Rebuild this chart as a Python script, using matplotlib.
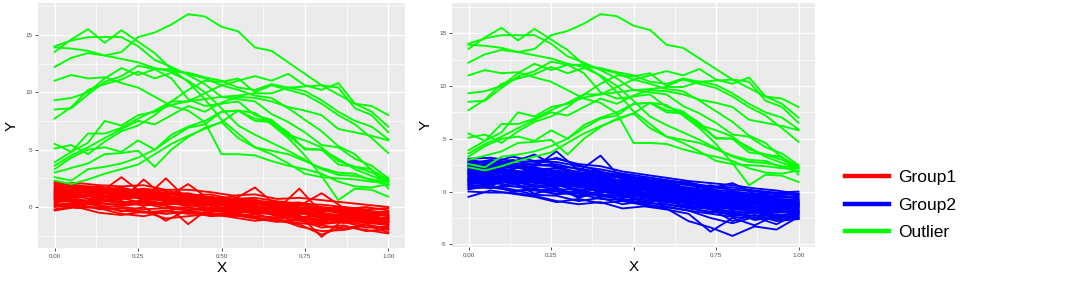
import numpy as np
import matplotlib
matplotlib.use("Agg")
import matplotlib.pyplot as plt
from matplotlib.lines import Line2D

# ---------------- data ----------------
x_outlier = [0.00, 0.05, 0.10, 0.15, 0.20, 0.25, 0.30, 0.35, 0.40, 0.45, 0.50,
             0.55, 0.60, 0.65, 0.70, 0.75, 0.80, 0.85, 0.90, 0.95, 1.00]
outlier_y = [
    [12.2, 13.0, 13.4, 13.2, 13.5, 14.8, 15.2, 15.9, 16.8, 16.6, 15.7, 15.3, 13.9, 13.6, 12.6, 11.6, 10.6, 9.8, 9.0, 8.3, 7.0],
    [13.5, 14.6, 15.5, 14.3, 15.4, 14.4, 13.4, 12.0, 10.9, 9.4, 7.6, 6.4, 5.2, 4.6, 3.8, 2.9, 2.6, 2.5, 2.4, 2.2, 2.2],
    [14.0, 14.5, 14.8, 14.8, 14.8, 14.0, 12.8, 12.2, 11.5, 10.7, 9.6, 9.4, 9.2, 8.1, 7.4, 6.5, 5.4, 5.2, 4.2, 3.6, 2.5],
    [13.9, 13.8, 13.6, 13.2, 12.9, 12.6, 12.1, 11.8, 11.7, 11.3, 11.0, 10.4, 10.2, 10.7, 10.4, 10.1, 9.3, 8.3, 7.5, 7.0, 5.9],
    [11.0, 11.5, 11.2, 11.3, 10.8, 10.4, 9.6, 8.8, 8.4, 7.4, 4.6, 4.6, 4.5, 4.0, 3.6, 3.3, 2.9, 2.2, 1.8, 1.7, 2.0],
    [9.3, 9.5, 10.0, 11.2, 12.1, 11.5, 12.0, 12.0, 11.6, 11.2, 10.6, 10.2, 9.7, 9.5, 8.6, 7.6, 6.6, 5.3, 4.6, 3.2, 2.4],
    [8.5, 8.6, 9.8, 10.9, 11.4, 12.3, 12.0, 11.2, 9.4, 8.8, 9.0, 9.2, 8.0, 7.6, 6.3, 5.8, 5.2, 4.0, 3.5, 3.3, 1.6],
    [7.7, 8.7, 10.2, 10.7, 11.1, 11.8, 11.2, 11.7, 11.0, 10.0, 8.6, 7.1, 6.3, 5.6, 4.9, 4.1, 3.3, 2.8, 2.7, 2.4, 2.2],
    [5.5, 4.8, 5.6, 7.5, 7.1, 8.0, 8.3, 8.9, 9.2, 9.9, 10.6, 11.0, 11.4, 11.0, 11.6, 10.6, 10.2, 10.8, 9.0, 8.8, 8.0],
    [5.1, 5.4, 4.6, 5.7, 6.6, 7.1, 8.0, 9.2, 9.2, 9.4, 9.6, 9.7, 9.9, 9.9, 10.4, 10.5, 10.6, 10.4, 8.6, 8.0, 6.5],
    [3.9, 4.8, 6.4, 6.4, 6.9, 7.7, 8.4, 9.2, 10.2, 11.0, 10.9, 11.2, 10.0, 10.6, 10.2, 9.8, 9.0, 8.0, 7.2, 6.0, 4.7],
    [3.6, 4.5, 5.2, 6.0, 6.8, 7.5, 7.2, 8.0, 8.8, 8.3, 9.1, 9.6, 9.5, 9.2, 8.7, 8.4, 8.0, 6.8, 6.5, 6.2, 5.8],
    [3.3, 4.3, 5.0, 5.2, 4.8, 5.8, 5.0, 6.3, 7.0, 7.5, 8.3, 8.4, 7.5, 7.4, 6.2, 5.1, 5.0, 3.7, 3.5, 3.0, 2.3],
    [3.0, 3.4, 3.8, 4.6, 4.7, 4.9, 3.5, 5.0, 6.1, 6.9, 7.4, 6.0, 5.2, 4.9, 4.6, 4.0, 3.4, 3.0, 2.9, 2.3, 1.9],
    [2.6, 2.3, 3.3, 3.5, 3.8, 4.3, 5.0, 6.0, 6.9, 7.2, 8.3, 8.4, 7.7, 7.5, 6.5, 5.0, 5.0, 4.2, 3.3, 2.7, 2.2],
    [2.3, 2.0, 2.4, 2.9, 3.3, 3.7, 4.6, 5.5, 6.2, 6.8, 7.4, 8.4, 8.2, 7.2, 6.0, 4.5, 2.7, 0.6, 1.6, 1.5, 0.9],
]

x_group = [0.0, 0.0667, 0.1333, 0.2, 0.2667, 0.3333, 0.4, 0.4667, 0.5333,
           0.6, 0.6667, 0.7333, 0.8, 0.8667, 0.9333, 1.0]
group1_y = [
    [1.2, 1.5, 1.0, 0.9, 0.8, 0.6, 0.7, 0.2, 0.1, 0.0, -0.3, -0.2, -0.9, -0.7, -1.1, -1.3],
    [0.5, 0.7, 0.3, 0.2, 0.4, 0.1, -0.2, -0.1, -0.4, -0.3, -0.8, -1.0, -1.4, -1.2, -1.6, -1.8],
    [1.8, 1.6, 1.4, 1.7, 1.2, 1.3, 0.9, 0.8, 0.5, 0.6, 0.2, 0.0, -0.3, -0.5, -0.4, -0.8],
    [0.0, 0.2, 0.4, 0.1, 0.3, -0.1, 0.0, -0.4, -0.2, -0.6, -0.5, -0.9, -1.1, -0.8, -1.2, -1.5],
    [2.1, 1.8, 1.5, 1.2, 1.3, 1.0, 0.7, 0.9, 0.4, 0.3, 0.1, -0.2, -0.4, -0.3, -0.7, -0.6],
    [1.0, 0.8, 1.2, 2.6, 1.1, 0.9, 0.6, 0.4, 0.3, -0.1, 0.0, -0.4, -0.6, -0.9, -0.8, -1.1],
    [0.7, 1.1, 0.9, 0.6, 2.4, 0.8, 0.5, 0.2, 0.1, -0.2, -0.1, -0.6, -0.5, -1.0, -1.3, -0.9],
    [1.4, 1.2, 0.8, 1.0, 0.7, 2.5, 0.6, 0.5, 0.2, 0.1, -0.3, -0.1, -0.7, -0.6, -1.0, -1.2],
    [0.3, -0.1, 0.0, -0.3, -0.5, -0.3, -0.6, -0.5, -0.8, -0.6, -1.1, -1.4, -1.6, -1.9, -1.5, -2.0],
    [1.6, 1.3, 1.5, 1.1, 1.0, 0.8, 2.0, 0.6, 0.5, 0.4, 0.2, 0.3, -0.2, 0.0, -0.5, -0.7],
    [0.9, 0.6, 0.5, 0.8, 0.3, 0.2, 0.4, -0.1, 0.0, -0.3, -0.4, -0.7, -2.6, -1.1, -1.4, -1.2],
    [1.1, 1.4, 1.3, 0.9, 1.2, 0.7, 0.8, 0.3, 0.6, 1.7, 0.1, -0.3, -0.2, -0.6, -0.9, -1.0],
    [0.4, 0.6, 0.2, -0.4, 0.0, -1.2, -0.2, -0.3, -0.5, -0.4, -0.7, -0.8, -1.2, -1.0, -1.3, -1.6],
    [1.3, 1.0, 1.1, 0.7, 0.9, 0.5, 0.3, 0.4, 0.0, 0.1, -0.2, 1.6, -0.5, -0.8, -0.6, -1.1],
    [0.8, 0.5, 0.7, 0.4, 0.5, 0.2, -1.5, 0.0, -0.2, -0.5, -0.6, -0.9, -0.8, -1.3, -1.1, -1.4],
    [1.9, 1.7, 1.6, 1.3, 1.5, 1.1, 1.2, 0.8, 0.7, 0.5, 0.4, 0.1, 1.2, -0.1, -0.3, -0.5],
    [0.6, 0.9, 0.6, 0.5, 0.1, 0.4, 0.1, 0.2, -0.3, -0.2, -0.6, -0.5, -1.0, -1.4, -1.0, -1.3],
    [1.5, 1.1, 0.9, 1.2, 0.6, 0.7, 0.4, 0.5, 0.3, -0.1, -0.2, -0.5, -0.9, -0.7, -1.2, -0.9],
    [-0.2, 0.1, -0.1, -0.6, -0.8, -0.4, -0.5, -0.7, -0.6, -0.9, -1.2, -1.5, -2.4, -1.7, -2.0, -2.3],
    [1.0, 1.3, 1.1, 1.4, 0.9, 1.0, 0.5, 0.7, 0.2, 0.3, -0.1, -0.3, -0.3, -0.5, -0.8, -0.7],
    [2.2, 1.9, 1.7, 1.6, 1.4, 1.2, 1.0, 1.1, 0.7, 0.8, 0.5, 0.3, 0.2, 0.0, -0.2, -0.1],
    [0.2, 0.4, 0.1, 0.0, -0.2, -0.1, -0.3, -0.6, -0.5, -0.8, -0.9, -1.2, -1.5, -1.3, -1.8, -1.7],
    [1.2, 0.9, 1.3, 1.0, 1.1, 0.6, 0.9, 0.6, 0.4, 0.2, 0.3, -0.1, -0.1, -0.4, -0.6, -0.4],
    [0.7, 0.4, 0.6, 0.3, 0.6, 0.3, 0.2, -0.2, -0.1, -0.4, -0.3, -0.8, -1.3, -0.9, -1.4, -1.5],
    [1.7, 1.4, 1.2, 1.5, 1.1, 1.2, 0.8, 0.9, 0.6, 0.6, 0.3, 0.4, 0.0, -0.2, 0.0, -0.3],
    [0.1, 0.3, -0.2, -0.1, -0.4, -0.6, -0.4, -0.8, -0.7, -1.0, -1.3, -1.1, -1.8, -1.6, -2.1, -1.9],
    [0.9, 1.2, 0.7, 1.1, 0.8, 0.5, 0.5, 0.1, 0.2, -0.1, -0.4, -0.4, -0.7, -1.1, -0.9, -1.0],
    [1.4, 1.6, 1.8, 1.4, 1.6, 1.4, 1.1, 0.7, 0.9, 0.4, 0.0, 0.2, -0.4, -0.2, -0.5, -0.8],
    [-0.3, 0.0, -0.5, -0.7, -0.4, -1.0, -0.8, -0.6, -0.9, -1.2, -1.0, -1.7, -2.1, -2.0, -1.6, -2.2],
    [2.0, 2.1, 1.9, 1.8, 1.9, 1.5, 1.5, 1.3, 1.0, 1.1, 0.7, 0.8, 0.6, 0.4, 0.2, 0.0],
]
group2_y = [
    [3.1, 3.2, 2.9, 2.8, 2.8, 2.4, 2.1, 1.7, 1.4, 1.1, 0.8, 0.5, 0.4, 0.1, -0.1, 0.0],
    [2.9, 2.6, 2.8, 3.5, 2.4, 2.2, 1.8, 1.6, 1.2, 1.0, 0.7, 0.4, 0.2, 0.0, -0.2, -0.3],
    [2.7, 2.9, 2.5, 2.3, 3.8, 2.0, 1.9, 1.4, 1.1, 0.8, 0.6, 0.2, 0.0, -0.2, -0.1, -0.4],
    [2.5, 2.3, 2.6, 2.1, 2.2, 1.8, 1.5, 1.3, 0.9, 0.7, 0.3, 0.1, -0.2, -0.3, -0.5, -0.6],
    [2.4, 2.6, 2.2, 2.3, 1.9, 1.9, 3.4, 1.1, 0.8, 0.5, 0.4, -0.1, -0.1, -0.5, -0.6, -0.5],
    [2.3, 2.1, 2.3, 2.0, 2.0, 1.6, 1.5, 1.0, 0.9, 0.4, 0.1, 0.0, -0.4, -0.4, -0.7, -0.8],
    [2.1, 2.2, 1.9, 1.9, 1.6, 1.6, 1.1, 1.0, 0.5, 0.4, 0.0, -0.4, -0.5, -0.7, -0.8, -1.0],
    [2.0, 1.8, 2.0, 1.7, 1.7, 1.3, 1.2, 0.7, 0.6, 0.1, -0.1, -0.3, -0.7, -0.8, -1.0, -0.9],
    [1.9, 2.1, 1.7, 1.8, 1.4, 1.4, 0.9, 0.8, 0.3, 0.2, -0.3, -0.5, -0.6, -1.0, -1.0, -1.2],
    [1.8, 1.6, 1.8, 1.5, 1.5, 1.1, 1.0, 0.5, 0.4, -0.1, -0.2, -0.7, -0.9, -0.9, -1.2, -1.1],
    [1.7, 1.9, 1.5, 1.6, 1.2, 1.2, 0.7, 0.6, 0.1, 0.0, -0.5, -0.6, -0.8, -1.2, -1.1, -1.4],
    [1.6, 1.4, 1.6, 1.3, 1.3, 0.9, 0.8, 0.3, 0.2, -0.3, -0.4, -0.9, -1.1, -1.1, -1.4, -1.3],
    [1.5, 1.7, 1.3, 1.4, 1.0, 1.0, 0.5, 0.4, -0.1, -0.1, -0.7, -0.8, -1.0, -1.4, -1.3, -1.6],
    [1.4, 1.3, 1.5, 1.2, 1.2, 0.8, 0.7, 0.2, 0.1, -0.4, -0.5, -1.0, -1.2, -1.2, -1.6, -1.4],
    [1.3, 1.5, 1.1, 1.3, 0.9, 0.9, 0.4, 0.3, -0.2, -0.3, -0.8, -0.9, -1.3, -1.5, -1.5, -1.7],
    [1.2, 1.1, 1.4, 1.0, 1.0, 0.6, 0.5, 0.0, -0.1, -0.6, -0.6, -1.2, -1.3, -1.4, -1.7, -1.6],
    [1.1, 1.3, 1.0, 1.1, 0.7, 0.7, 0.2, 0.1, -0.4, -0.4, -1.0, -1.1, -1.5, -1.7, -1.6, -1.9],
    [1.0, 0.9, 1.2, 0.8, 0.8, 0.4, 0.3, -0.2, -0.3, -0.8, -0.8, -1.3, -1.4, -1.6, -1.9, -1.8],
    [0.9, 1.1, 0.8, 0.9, 0.5, 0.5, 0.0, -0.1, -0.6, -0.6, -1.2, -1.3, -1.7, -1.8, -1.8, -2.0],
    [0.8, 0.7, 1.0, 0.6, 0.6, 0.2, 0.1, -0.4, -0.5, -1.0, -1.0, -1.5, -1.6, -1.9, -2.0, -1.9],
    [0.7, 0.9, 0.5, 0.5, 0.2, 0.2, -0.3, -0.4, -0.8, -0.9, -1.4, -1.6, -1.9, -2.0, -2.2, -2.2],
    [0.5, 0.4, 0.5, 0.2, 0.1, -0.1, -0.4, -0.7, -1.1, -1.2, -1.6, -1.9, -2.1, -2.3, -2.3, -2.5],
    [0.3, 0.4, 0.1, 0.1, -0.2, -0.2, -0.7, -0.8, -1.2, -1.5, -1.8, -2.1, -2.4, -2.5, -2.6, -2.6],
    [0.0, -0.1, -0.1, -0.4, -0.9, -1.2, -1.0, -1.6, -1.4, -1.7, -2.1, -3.8, -2.5, -3.2, -2.2, -2.5],
    [-0.5, 0.1, -0.2, -0.5, -1.0, -0.7, -1.1, -0.9, -1.3, -1.6, -2.8, -3.4, -4.2, -3.3, -3.6, -2.4],
    [0.6, 0.5, 0.2, -0.3, -0.4, -0.9, -0.6, -1.2, -0.9, -1.4, -1.8, -2.5, -3.0, -2.4, -3.1, -2.0],
    [2.8, 2.4, 3.0, 2.5, 2.6, 2.1, 1.6, 1.5, 1.0, 0.9, 0.9, 0.3, 0.8, -0.2, -0.4, -0.2],
    [2.2, 2.7, 2.4, 2.6, 3.2, 2.5, 1.9, 1.2, 1.3, 0.6, 0.2, 0.6, 0.1, -0.6, -0.3, -0.7],
    [1.0, 1.5, 0.7, 1.2, 0.4, 1.3, -0.2, 0.6, -0.4, 0.2, -0.9, -0.5, -1.8, -1.0, -2.0, -1.2],
    [1.9, 1.5, 2.1, 1.3, 1.9, 0.9, 1.4, 0.5, 0.7, -0.2, 0.0, -0.8, -0.6, -1.5, -0.9, -1.8],
    [0.4, 0.8, 0.9, -0.2, 0.3, -0.5, 0.1, -0.6, -0.4, -1.0, -1.3, -1.7, -2.3, -2.0, -2.5, -2.3],
    [2.6, 3.0, 2.7, 2.5, 2.4, 1.8, 1.7, 1.3, 0.8, 0.6, 0.1, -0.2, -0.3, -0.6, -0.9, -0.8],
    [1.3, 1.0, 1.3, 0.9, 1.4, 0.5, 1.0, 0.1, 0.4, -0.6, -0.3, -1.0, -1.6, -0.9, -1.7, -1.5],
    [1.7, 2.0, 1.6, 2.2, 1.3, 1.7, 0.8, 1.0, 0.2, 0.5, -0.4, -0.1, -1.0, -0.7, -1.4, -1.0],
    [0.9, 0.6, 1.1, 0.4, 0.7, 0.0, 0.6, -0.3, -0.1, -0.7, -1.1, -1.4, -2.0, -2.6, -1.9, -2.1],
    [2.0, 2.3, 1.8, 2.0, 1.8, 1.5, 1.3, 0.9, 0.7, 0.3, -0.1, -0.4, -0.3, -0.9, -1.1, -1.3],
    [1.1, 0.8, 0.9, 0.6, 0.4, -0.6, 0.0, -0.3, -0.4, -0.8, -1.1, -1.6, -2.2, -1.8, -2.4, -1.9],
    [2.4, 2.0, 2.5, 1.8, 2.3, 1.6, 1.4, 1.0, 0.4, 0.8, 0.3, 0.1, -0.5, -0.4, -0.8, -1.2],
    [1.6, 1.2, 1.8, 1.1, 1.1, 1.4, 0.3, 0.7, -0.3, 0.0, -0.6, -1.1, -0.8, -1.6, -1.2, -1.5],
    [0.2, 0.6, 0.0, 0.3, -0.3, 0.1, -0.5, -0.4, -1.0, -0.8, -1.5, -1.6, -2.8, -2.2, -2.8, -2.6],
    [3.0, 2.7, 3.3, 2.9, 3.1, 2.6, 2.4, 1.9, 1.6, 1.3, 1.0, 0.8, 0.6, 0.3, 0.1, -0.2],
    [0.6, 0.3, 0.8, 0.2, 0.0, -0.4, -0.2, -0.9, -0.6, -1.2, -1.5, -2.0, -1.9, -2.7, -2.4, -2.3],
    [1.8, 2.2, 2.0, 1.6, 1.7, 1.2, 1.3, 0.8, 0.5, 0.3, 0.0, -0.2, -0.6, -1.0, -1.2, -1.1],
    [1.2, 0.9, 1.2, 1.0, 0.6, 0.7, 0.2, 0.0, -0.2, -0.5, -0.9, -1.2, -1.4, -1.9, -1.8, -2.1],
]

x_ticks = [0.00, 0.25, 0.50, 0.75, 1.00]
x_ticklabels_left = ["0.00", "0.25", "0.50", "0.75", "1.00"]
x_ticklabels_right = ["0.00", "0.25", "", "0.75", "1.00"]
legend_labels = ["Group1", "Group2", "Outlier"]
colors = {"Group1": "#FF0000", "Group2": "#0000FF", "Outlier": "#00FF00"}

# ---------------- figure ----------------
plt.rcParams["font.family"] = ["Liberation Sans", "DejaVu Sans"]
fig = plt.figure(figsize=(10.66, 2.85), dpi=100)

ax1 = fig.add_axes([38 / 1066, 1 - 248 / 285, 367 / 1066, 245 / 285])
ax2 = fig.add_axes([452 / 1066, 1 - 247 / 285, 363 / 1066, 244 / 285])


def style(ax, ylo, yhi, yticks, xlabels):
    ax.set_facecolor("#EBEBEB")
    for s in ax.spines.values():
        s.set_visible(False)
    ax.set_xlim(-0.05, 1.05)
    ax.set_ylim(ylo, yhi)
    ax.set_xticks(x_ticks)
    ax.set_xticklabels(xlabels)
    ax.set_yticks(yticks)
    ax.set_yticklabels([str(t) for t in yticks])
    ax.set_xticks([0.125, 0.375, 0.625, 0.875], minor=True)
    ym = [t + 2.5 for t in yticks[:-1]] + [yticks[0] - 2.5, yticks[-1] + 2.5]
    ax.set_yticks([v for v in ym if ylo < v < yhi], minor=True)
    ax.grid(which="major", color="white", linewidth=1.0)
    ax.grid(which="minor", color="white", linewidth=0.5)
    ax.set_axisbelow(True)
    ax.tick_params(which="major", length=2, width=0.6, color="#333333",
                   labelsize=4.5, labelcolor="#4D4D4D", pad=2)
    ax.tick_params(which="minor", length=0)
    ax.set_xlabel("X", fontsize=11, labelpad=2)
    ax.set_ylabel("Y", fontsize=11, labelpad=5)


def yrange(groups):
    allv = [v for g in groups for line in g for v in line]
    lo, hi = min(allv), max(allv)
    pad = 0.05 * (hi - lo)
    return lo - pad, hi + pad


lo1, hi1 = yrange([group1_y, outlier_y])
lo2, hi2 = yrange([group2_y, outlier_y])

LW = 1.35
for line in group1_y:
    ax1.plot(x_group, line, color=colors["Group1"], lw=LW)
for line in outlier_y:
    ax1.plot(x_outlier, line, color=colors["Outlier"], lw=LW)
for line in group2_y:
    ax2.plot(x_group, line, color=colors["Group2"], lw=LW)
for line in outlier_y:
    ax2.plot(x_outlier, line, color=colors["Outlier"], lw=LW)

style(ax1, lo1, hi1, [0, 5, 10, 15], x_ticklabels_left)
style(ax2, lo2, hi2, [-5, 0, 5, 10, 15], x_ticklabels_right)

handles = [Line2D([0], [0], color=colors[k], lw=3.2) for k in legend_labels]
fig.legend(handles, legend_labels, loc="center left",
           bbox_to_anchor=(833 / 1066, 1 - 205 / 285), frameon=False,
           fontsize=12.5, handlelength=2.5, handletextpad=0.55, labelspacing=0.7,
           borderpad=0.2)

fig.savefig("out.png", dpi=100)
